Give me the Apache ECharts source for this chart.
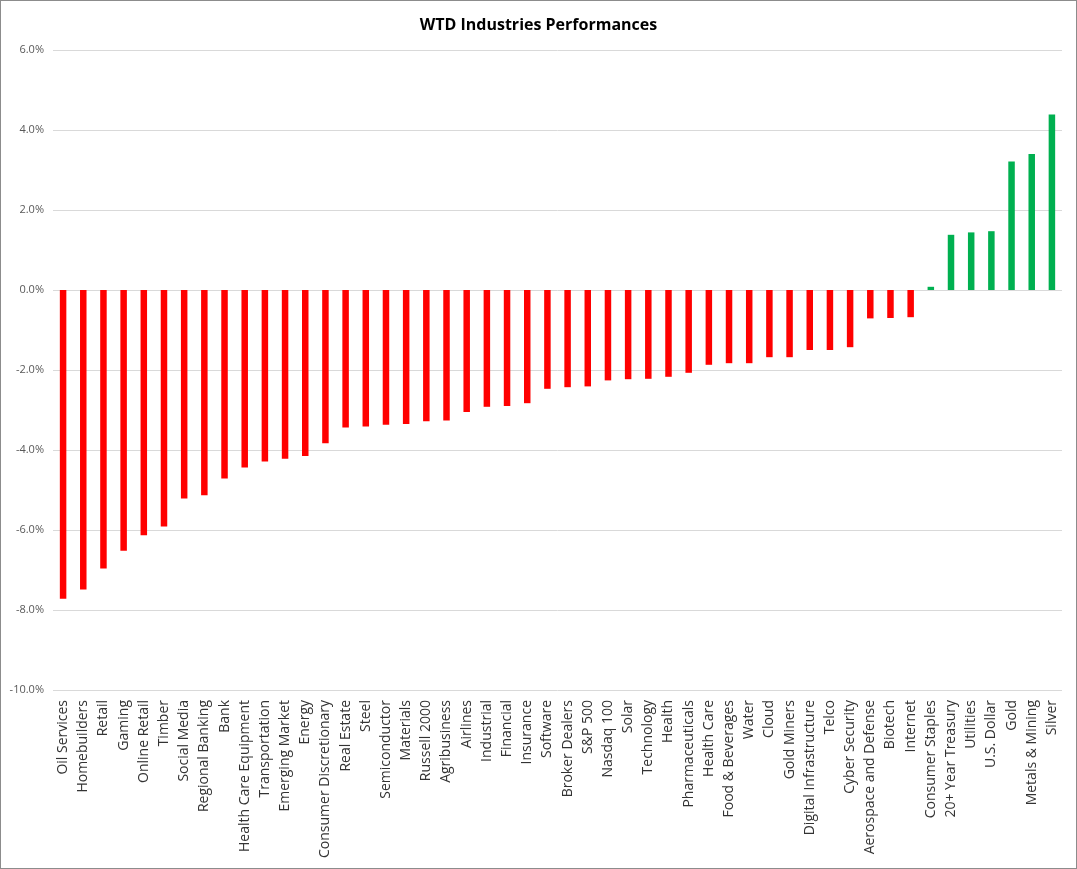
<!DOCTYPE html>
<html>
<head>
<meta charset="utf-8">
<script src="https://cdn.jsdelivr.net/npm/echarts@6/dist/echarts.min.js"></script>
<style>
html,body{margin:0;padding:0;background:#fff;}
#chart{width:1077px;height:869px;box-sizing:border-box;border:1px solid #8c8c8c;}
</style>
</head>
<body>
<div id="chart"></div>
<script>
const categories = ["Oil Services","Homebuilders","Retail","Gaming","Online Retail","Timber","Social Media","Regional Banking","Bank","Health Care Equipment","Transportation","Emerging Market","Energy","Consumer Discretionary","Real Estate","Steel","Semiconductor","Materials","Russell 2000","Agribusiness","Airlines","Industrial","Financial","Insurance","Software","Broker Dealers","S&P 500","Nasdaq 100","Solar","Technology","Health","Pharmaceuticals","Health Care","Food & Beverages","Water","Cloud","Gold Miners","Digital Infrastructure","Telco","Cyber Security","Aerospace and Defense","Biotech","Internet","Consumer Staples","20+ Year Treasury","Utilities","U.S. Dollar","Gold","Metals & Mining","Silver"];
const values = [-7.72,-7.49,-6.96,-6.52,-6.13,-5.91,-5.21,-5.13,-4.71,-4.44,-4.29,-4.22,-4.15,-3.83,-3.44,-3.41,-3.37,-3.35,-3.28,-3.26,-3.05,-2.92,-2.90,-2.83,-2.47,-2.43,-2.41,-2.26,-2.23,-2.22,-2.17,-2.07,-1.87,-1.83,-1.83,-1.68,-1.68,-1.50,-1.50,-1.43,-0.71,-0.70,-0.68,0.08,1.38,1.44,1.47,3.21,3.40,4.39];
const yTicks = {min:-10, max:6, interval:2};

const chart = echarts.init(document.getElementById('chart'));
chart.setOption({
  animation:false,
  title:{text:'WTD Industries Performances',left:'center',top:11,
    textStyle:{fontFamily:'Open Sans',fontSize:16,fontWeight:'bold',color:'#000'}},
  grid:{left:52,right:14,top:49,bottom:178},
  xAxis:{type:'category',data:categories,
    axisLine:{show:false,onZero:false},axisTick:{show:false},
    axisLabel:{rotate:90,interval:0,margin:10,color:'#333333',fontFamily:'Open Sans',fontSize:14}},
  yAxis:{type:'value',min:yTicks.min,max:yTicks.max,interval:yTicks.interval,
    axisLine:{show:false},axisTick:{show:false},
    splitLine:{lineStyle:{color:'#d9d9d9',width:1}},
    axisLabel:{formatter:v=>v.toFixed(1)+'%',color:'#595959',fontFamily:'Open Sans',fontSize:11,margin:9}},
  series:[{type:'bar',data:values.map(v=>({value:v,itemStyle:{color:v<0?'#ff0000':'#00b050'}})),
    barWidth:6.5}]
});
</script>
</body>
</html>
